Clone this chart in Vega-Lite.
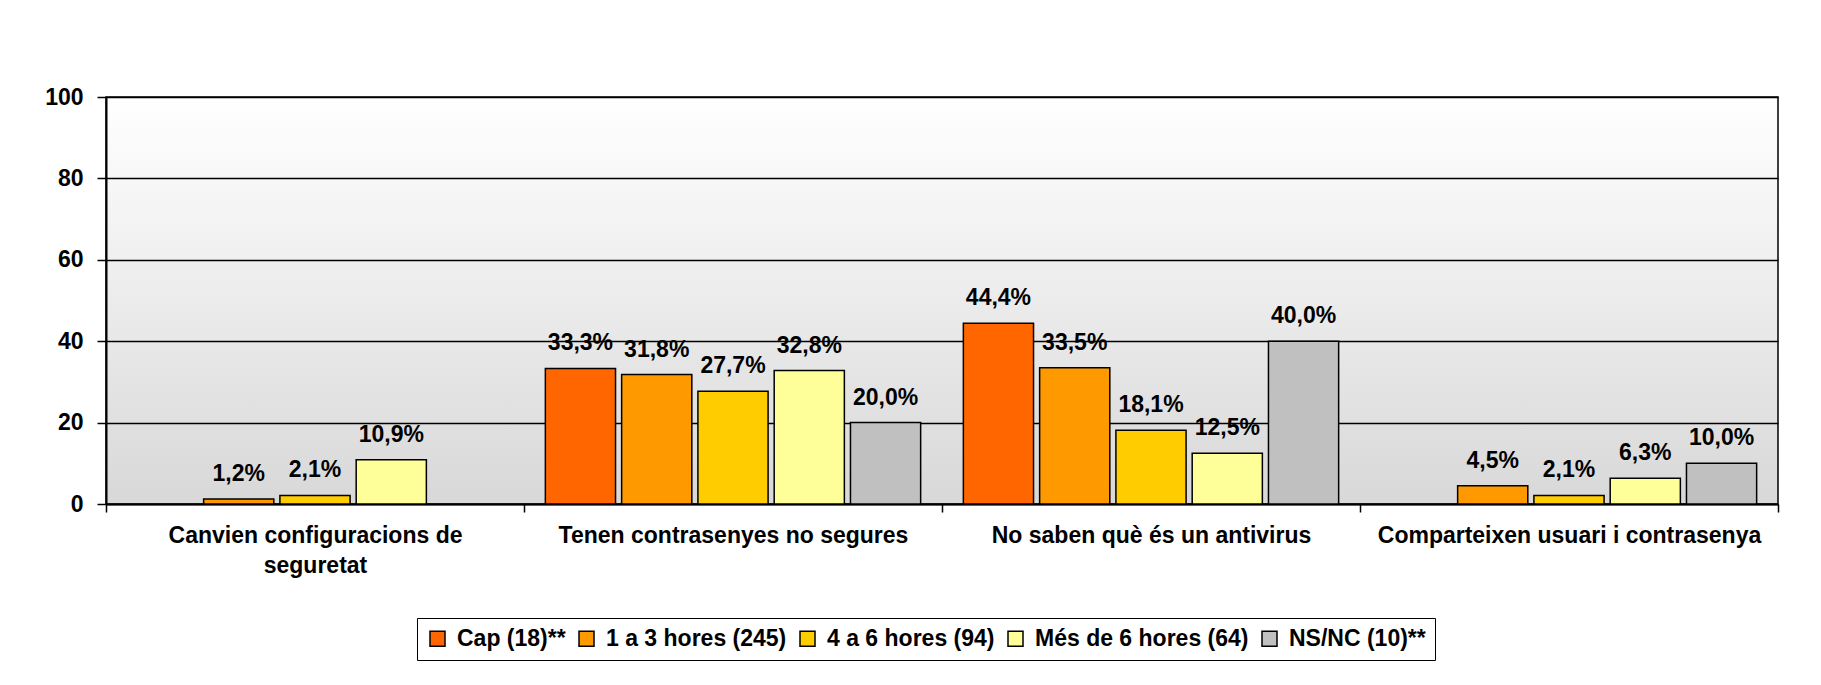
{
  "$schema": "https://vega.github.io/schema/vega-lite/v6.json",
  "width": 1672,
  "height": 407,
  "autosize": {"type": "none"},
  "padding": {"left": 106, "top": 97, "right": 43, "bottom": 181},
  "background": "#ffffff",
  "config": {
    "font": "Liberation Sans",
    "view": {
      "stroke": "#000000",
      "strokeWidth": 1.5,
      "fill": {
        "gradient": "linear",
        "x1": 0, "y1": 0, "x2": 0, "y2": 1,
        "stops": [
          {"offset": 0, "color": "#ffffff"},
          {"offset": 1, "color": "#d8d8d8"}
        ]
      }
    },
    "legend": {
      "orient": "none",
      "legendX": 311,
      "legendY": 521,
      "direction": "horizontal",
      "title": null,
      "symbolType": "square",
      "symbolSize": 225,
      "symbolStrokeColor": "#000000",
      "symbolStrokeWidth": 1.5,
      "symbolOpacity": 1,
      "labelFont": "Liberation Sans",
      "labelFontSize": 23,
      "labelFontWeight": "bold",
      "labelColor": "#000000",
      "labelOffset": 8,
      "labelLimit": 400,
      "columnPadding": 9,
      "padding": 9,
      "strokeColor": "#000000",
      "fillColor": "#ffffff"
    }
  },
  "data": {
    "values": [
      {"category": "Canvien configuracions de seguretat", "series": "1 a 3 hores (245)", "value": 1.2},
      {"category": "Canvien configuracions de seguretat", "series": "4 a 6 hores (94)", "value": 2.1},
      {"category": "Canvien configuracions de seguretat", "series": "Més de 6 hores (64)", "value": 10.9},
      {"category": "Tenen contrasenyes no segures", "series": "Cap (18)**", "value": 33.3},
      {"category": "Tenen contrasenyes no segures", "series": "1 a 3 hores (245)", "value": 31.8},
      {"category": "Tenen contrasenyes no segures", "series": "4 a 6 hores (94)", "value": 27.7},
      {"category": "Tenen contrasenyes no segures", "series": "Més de 6 hores (64)", "value": 32.8},
      {"category": "Tenen contrasenyes no segures", "series": "NS/NC (10)**", "value": 20.0},
      {"category": "No saben què és un antivirus", "series": "Cap (18)**", "value": 44.4},
      {"category": "No saben què és un antivirus", "series": "1 a 3 hores (245)", "value": 33.5},
      {"category": "No saben què és un antivirus", "series": "4 a 6 hores (94)", "value": 18.1},
      {"category": "No saben què és un antivirus", "series": "Més de 6 hores (64)", "value": 12.5},
      {"category": "No saben què és un antivirus", "series": "NS/NC (10)**", "value": 40.0},
      {"category": "Comparteixen usuari i contrasenya", "series": "1 a 3 hores (245)", "value": 4.5},
      {"category": "Comparteixen usuari i contrasenya", "series": "4 a 6 hores (94)", "value": 2.1},
      {"category": "Comparteixen usuari i contrasenya", "series": "Més de 6 hores (64)", "value": 6.3},
      {"category": "Comparteixen usuari i contrasenya", "series": "NS/NC (10)**", "value": 10.0}
    ]
  },
  "transform": [
    {"calculate": "replace(format(datum.value, '.1f'), '.', ',') + '%'", "as": "label"}
  ],
  "encoding": {
    "x": {
      "field": "category",
      "type": "nominal",
      "sort": null,
      "scale": {"paddingInner": 0, "paddingOuter": 0},
      "axis": {
        "title": null,
        "labelAngle": 0,
        "labelFont": "Liberation Sans",
        "labelFontSize": 23,
        "labelFontWeight": "bold",
        "labelColor": "#000000",
        "labelLineHeight": 30,
        "labelPadding": 12,
        "labelLimit": 500,
        "labelExpr": "datum.value == 'Canvien configuracions de seguretat' ? ['Canvien configuracions de', 'seguretat'] : datum.value",
        "tickBand": "extent",
        "tickColor": "#000000",
        "tickWidth": 1.5,
        "tickSize": 8,
        "domainColor": "#000000",
        "domainWidth": 2,
        "grid": false
      }
    },
    "xOffset": {
      "field": "series",
      "type": "nominal",
      "scale": {
        "domain": ["Cap (18)**", "1 a 3 hores (245)", "4 a 6 hores (94)", "Més de 6 hores (64)", "NS/NC (10)**"],
        "paddingInner": 0.08,
        "paddingOuter": 0.28
      }
    },
    "y": {
      "field": "value",
      "type": "quantitative",
      "scale": {"domain": [0, 100], "nice": false},
      "axis": {
        "title": null,
        "values": [0, 20, 40, 60, 80, 100],
        "labelFont": "Liberation Sans",
        "labelFontSize": 23,
        "labelFontWeight": "bold",
        "labelColor": "#000000",
        "labelPadding": 14,
        "tickSize": 9,
        "tickColor": "#000000",
        "tickWidth": 1.5,
        "domainColor": "#000000",
        "domainWidth": 2,
        "grid": true,
        "gridColor": "#000000",
        "gridWidth": 1.5,
        "gridOpacity": 1
      }
    }
  },
  "layer": [
    {
      "mark": {"type": "bar", "stroke": "#000000", "strokeWidth": 1.5},
      "encoding": {
        "color": {
          "field": "series",
          "type": "nominal",
          "scale": {
            "domain": ["Cap (18)**", "1 a 3 hores (245)", "4 a 6 hores (94)", "Més de 6 hores (64)", "NS/NC (10)**"],
            "range": ["#FF6600", "#FF9900", "#FFCC00", "#FFFF99", "#C0C0C0"]
          }
        }
      }
    },
    {
      "mark": {
        "type": "text",
        "font": "Liberation Sans",
        "fontSize": 23,
        "fontWeight": "bold",
        "color": "#000000",
        "baseline": "alphabetic",
        "dy": -18
      },
      "encoding": {
        "text": {"field": "label"}
      }
    }
  ]
}
